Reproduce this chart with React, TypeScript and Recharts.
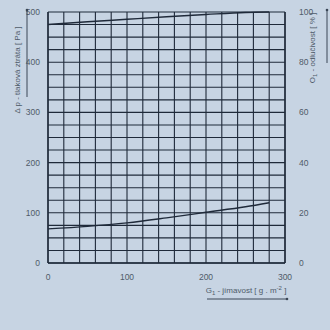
import { LineChart, Line, XAxis, YAxis, CartesianGrid } from "recharts";

// G - jímavost [g . m-2]
const capacity = [0, 50, 100, 150, 200, 250, 280];
// Δp - tlaková ztráta [Pa]
const pressureLoss = [68, 73, 80, 90, 101, 112, 120];
// O - odlučivost [%]
const efficiency = [95, 96.1, 97.1, 98.1, 99, 99.8, 100];

const xTicks = [0, 20, 40, 60, 80, 100, 120, 140, 160, 180, 200, 220, 240, 260, 280, 300];
const leftTicks = [0, 25, 50, 75, 100, 125, 150, 175, 200, 225, 250, 275, 300, 325, 350, 375, 400, 425, 450, 475, 500];
const rightTicks = [0, 20, 40, 60, 80, 100];

const data = capacity.map((g, i) => ({ g, dp: pressureLoss[i], ov: efficiency[i] }));

const ink = "#1f2a3a";
const textColor = "#4f5b69";
const font = "'Liberation Sans', Arial, sans-serif";

export default function App() {
  const tick = { fill: textColor, fontSize: 8.5, fontFamily: font };

  return (
    <div style={{ position: "absolute", left: 0, top: 0, width: 330, height: 330, background: "#c7d4e3" }}>
      <LineChart width={330} height={330} data={data} margin={{ top: 12, right: 0, left: 0, bottom: 37 }}>
        <CartesianGrid yAxisId="left" stroke={ink} strokeWidth={1.1} />
        <XAxis
          dataKey="g"
          type="number"
          domain={[0, 300]}
          ticks={xTicks}
          interval={0}
          height={30}
          tickLine={false}
          axisLine={{ stroke: ink, strokeWidth: 1.4 }}
          tickMargin={5}
          tick={tick}
          tickFormatter={(v: number) => (v % 100 === 0 ? String(v) : "")}
        />
        <YAxis
          yAxisId="left"
          domain={[0, 500]}
          ticks={leftTicks}
          interval={0}
          width={48}
          tickLine={false}
          axisLine={{ stroke: ink, strokeWidth: 1.4 }}
          tickMargin={2}
          tick={tick}
          tickFormatter={(v: number) => (v % 100 === 0 ? String(v) : "")}
        />
        <YAxis
          yAxisId="right"
          orientation="right"
          domain={[0, 100]}
          ticks={rightTicks}
          interval={0}
          width={45}
          tickLine={false}
          axisLine={{ stroke: ink, strokeWidth: 1.4 }}
          tickMargin={8}
          tick={{ ...tick, textAnchor: "start" }}
        />
        <Line yAxisId="left" type="monotone" dataKey="dp" stroke={ink} strokeWidth={1.4} dot={false} isAnimationActive={false} />
        <Line yAxisId="right" type="monotone" dataKey="ov" stroke={ink} strokeWidth={1.4} dot={false} isAnimationActive={false} />
      </LineChart>

      <svg width={330} height={330} style={{ position: "absolute", left: 0, top: 0, pointerEvents: "none" }}>
        <g fontFamily={font} fontSize={8} fill={textColor}>
          <text transform="translate(20,70) rotate(-90)" textAnchor="middle">
            Δ p - tlaková ztráta [ Pa ]
          </text>
          <text transform="translate(315,48) rotate(-90)" textAnchor="middle">
            O<tspan dy={2} fontSize={6}>1</tspan><tspan dy={-2}> - odlučivost [ % ]</tspan>
          </text>
          <text x={246} y={293} textAnchor="middle">
            G<tspan dy={2} fontSize={6}>1</tspan><tspan dy={-2}> - jímavost  [ g . m</tspan><tspan dy={-3} fontSize={6}>-2</tspan><tspan dy={3}> ]</tspan>
          </text>
        </g>
        <g stroke="#3a4656" strokeWidth={1}>
          <line x1={27} y1={10} x2={27} y2={97} />
          <line x1={327} y1={10} x2={327} y2={63} />
          <line x1={207} y1={299} x2={287} y2={299} />
        </g>
        <g fill="#3a4656">
          <circle cx={27} cy={10} r={1.3} />
          <circle cx={327} cy={10} r={1.3} />
          <circle cx={287} cy={299} r={1.3} />
        </g>
      </svg>
    </div>
  );
}
